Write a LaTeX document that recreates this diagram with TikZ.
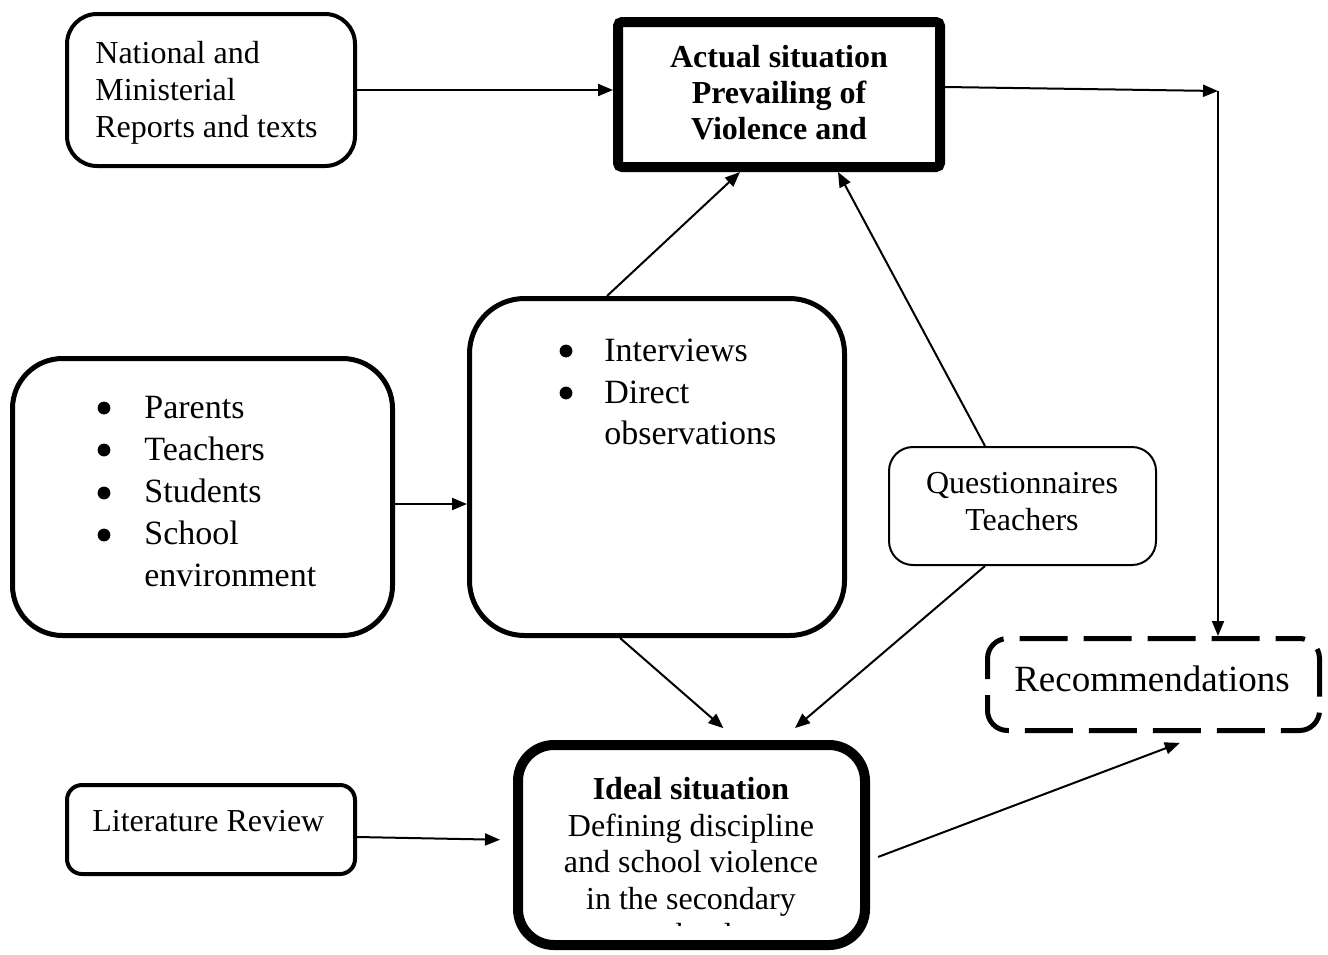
\documentclass[tikz,border=0pt]{standalone}
\usepackage{fontspec}
\setmainfont{Liberation Serif}
\usetikzlibrary{arrows.meta}
\begin{document}
\begin{tikzpicture}[x=0.5pt,y=-0.5pt,
  box/.style={draw, inner sep=0pt, rounded corners=#1},
  box/.default=0pt,
  arr/.style={-{Triangle[length=7.5pt,width=6pt]}, line width=1pt},
  dot/.style={circle, fill, inner sep=0pt, minimum size=6.4pt},
  txt/.style={inner sep=0pt, align=left, font=\fontsize{16}{18.5}\selectfont},
  ctxt/.style={inner sep=0pt, align=center, font=\fontsize{16}{18.25}\selectfont},
  btxt/.style={inner sep=0pt, align=left, font=\fontsize{17}{20.9}\selectfont}]
\useasboundingbox (0,0) rectangle (1328,954);

% boxes
\node[box=15pt, line width=2pt, minimum width=144pt, minimum height=76pt] (nat) at (211,90) {};
\node[box=2pt, line width=5pt, minimum width=161pt, minimum height=72.5pt] (act) at (779,94.5) {};
\node[box=25pt, line width=2.5pt, minimum width=190pt, minimum height=138.5pt] (lft) at (202.5,497) {};
\node[box=27.5pt, line width=2.5pt, minimum width=187.5pt, minimum height=168.5pt] (mid) at (657,467) {};
\node[box=12pt, line width=1pt, minimum width=133.5pt, minimum height=59pt] (que) at (1022.5,506) {};
\node[box=10pt, line width=2.5pt, dash pattern=on 24pt off 8pt, dash phase=12pt, minimum width=166pt, minimum height=46pt] (rec) at (1153.5,684.5) {};
\node[box=7.5pt, line width=2pt, minimum width=144pt, minimum height=44.5pt] (lit) at (211,829.5) {};
\node[box=18pt, line width=5pt, minimum width=173.5pt, minimum height=100pt] (ide) at (691.5,845) {};

% bullets
\node[dot] (b1) at (104,408) {};
\node[dot] (b2) at (104,450) {};
\node[dot] (b3) at (104,493) {};
\node[dot] (b4) at (104,535) {};
\node[dot] (b5) at (566,351) {};
\node[dot] (b6) at (566,393) {};

% texts
\node[txt, anchor=west] (natt) at (95,93) {National and\\Ministerial\\Reports and texts};
\node[ctxt, font=\fontsize{16}{18}\selectfont\bfseries] (actt) at (779,93) {Actual situation\\Prevailing of\\Violence and};
\node[btxt, anchor=west] (lftt) at (144,491.5) {Parents\\Teachers\\Students\\School\\environment};
\node[btxt, anchor=west] (midt) at (604,392) {Interviews\\Direct\\observations};
\node[ctxt, font=\fontsize{16}{18.5}\selectfont] (quet) at (1022,501.5) {Questionnaires\\Teachers};
\node[inner sep=0pt, font=\fontsize{18.5}{21}\selectfont] (rect) at (1152,679) {Recommendations};
\node[txt, anchor=west] (litt) at (92,821) {Literature Review};
\begin{scope}
  \clip (520,745) rectangle (865,925);
  \node[ctxt] (idet) at (691,862) {\textbf{Ideal situation}\\Defining discipline\\and school violence\\in the secondary\\school};
\end{scope}

% connectors
\coordinate (c1) at (1218,91);
\draw[arr] (nat.east) -- (nat.east -| act.west);
\draw[arr] (act.east |- 0,87) -- (c1);
\draw[arr] (c1) -- (rec.north -| c1);
\draw[arr] (mid.north -| 607,0) -- (act.south -| 740,0);
\draw[arr] (que.north -| 985,0) -- (act.south -| 838,0);
\draw[arr] (lft.east |- 0,504) -- (mid.west |- 0,504);
\draw[arr, shorten >=9pt] (mid.south -| 620,0) -- (ide.north -| 737,0);
\draw[arr, shorten >=9.2pt] (que.south -| 985,0) -- (ide.north -| 781,0);
\draw[arr, shorten >=6.5pt] (lit.east |- 0,837) -- (ide.west |- 0,840);
\draw[arr, shorten <=4.3pt, shorten >=14pt] (ide.east |- 0,860) -- (rec.south -| 1206,0);
\end{tikzpicture}
\end{document}
